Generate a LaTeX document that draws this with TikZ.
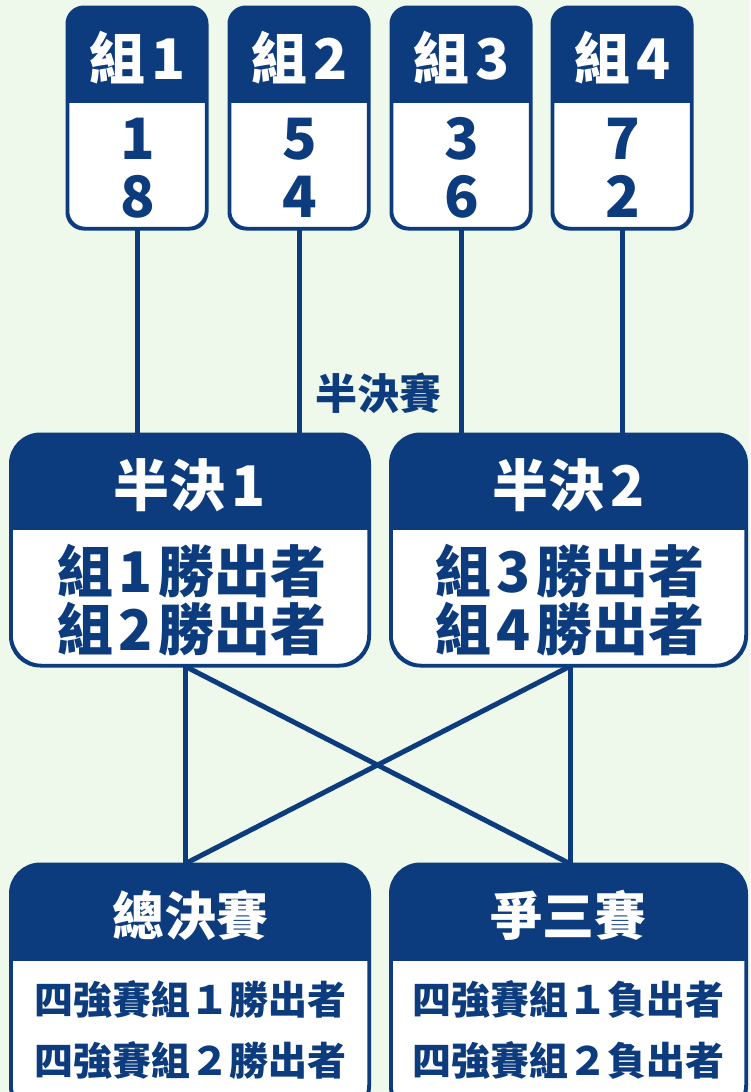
\documentclass[tikz,border=0pt]{standalone}
\usepackage{fontspec}
\newfontfamily\cjk{Noto Sans CJK TC}
\usetikzlibrary{calc,backgrounds}
\definecolor{navy}{HTML}{0D3C7E}
\definecolor{bg}{HTML}{EEF8EB}
\tikzset{
  card/.style={draw=navy, fill=white, line width=2.5pt, inner sep=0pt},
  hdrtxt/.style={text=white, inner sep=0pt, font=\cjk\bfseries\fontsize{56}{58}\selectfont},
  smalhdr/.style={text=white, inner sep=0pt, font=\cjk\bfseries\fontsize{52}{54}\selectfont},
  bodytxt/.style={text=navy, inner sep=0pt, align=center, font=\cjk\bfseries\fontsize{57}{58}\selectfont},
  smalbody/.style={text=navy, inner sep=0pt, align=center, font=\cjk\bfseries\fontsize{39}{61}\selectfont},
  stagelbl/.style={text=navy, inner sep=0pt, font=\cjk\bfseries\fontsize{42}{44}\selectfont},
  link/.style={draw=navy, line width=5pt},
}
\newcommand\dg[1]{\hspace{5pt}#1\hspace{5pt}}
\newcommand\card[7]{%
  \node[card, rounded corners=#7pt, minimum width=#4pt, minimum height=#5pt] (#1) at (#2,#3) {};
  \begin{scope}
    \clip[rounded corners=#7pt] (#1.south west) rectangle (#1.north east);
    \fill[navy] (#1.north west) rectangle ($(#1.north east)+(0,#6)$);
  \end{scope}
  \draw[navy, line width=2.5pt, rounded corners=#7pt] (#1.south west) rectangle (#1.north east);
}
\begin{document}
\begin{tikzpicture}[x=1pt,y=-1pt]
\useasboundingbox (0,0) rectangle (750,1092);
\begin{scope}
\clip (0,0) rectangle (750,1092);
% group boxes
\card{g1}{137}{118}{138}{220}{96}{17}
\card{g2}{299}{118}{138}{220}{96}{17}
\card{g3}{461}{118}{138}{220}{96}{17}
\card{g4}{622}{118}{138}{220}{96}{17}
\node[hdrtxt] (g1h) at (138,58) {組\hspace{6pt}1};
\node[hdrtxt] (g2h) at (300,58) {組\hspace{6pt}2};
\node[hdrtxt] (g3h) at (462,58) {組\hspace{6pt}3};
\node[hdrtxt] (g4h) at (623,58) {組\hspace{6pt}4};
\node[bodytxt] (g1b) at (138,168) {1\\8};
\node[bodytxt] (g2b) at (300,168) {5\\4};
\node[bodytxt] (g3b) at (462,168) {3\\6};
\node[bodytxt] (g4b) at (623,168) {7\\2};
% semifinal boxes
\card{s1}{190}{550}{357}{230}{96}{30}
\card{s2}{568.5}{550}{354}{230}{96}{30}
\node[hdrtxt] (s1h) at (190,485) {半決\hspace{6pt}1};
\node[hdrtxt] (s2h) at (568.5,485) {半決\hspace{6pt}2};
\node[bodytxt, font=\cjk\bfseries\fontsize{56}{58}\selectfont] (s1b) at (192,600) {組\dg{1}勝出者\\組\dg{2}勝出者};
\node[bodytxt, font=\cjk\bfseries\fontsize{56}{58}\selectfont] (s2b) at (570,600) {組\dg{3}勝出者\\組\dg{4}勝出者};
\node[stagelbl] (lbl) at (378,393) {半決賽};
% final boxes
\card{f}{190}{990}{357}{250}{97}{30}
\card{t}{568.5}{990}{354}{250}{97}{30}
\node[smalhdr] (fh) at (190,915) {總決賽};
\node[smalhdr] (th) at (568.5,915) {爭三賽};
\node[smalbody] (fb) at (190,1030) {四強賽組１勝出者\\四強賽組２勝出者};
\node[smalbody] (tb) at (568.5,1030) {四強賽組１負出者\\四強賽組２負出者};
\coordinate (s1o) at ($(s1.south)+(-5,0)$);
\coordinate (fi) at ($(f.north)+(-5,0)$);
\coordinate (s2o) at ($(s2.south)+(1.5,0)$);
\coordinate (ti) at ($(t.north)+(1.5,0)$);
\begin{scope}[on background layer]
\fill[bg] (0,0) rectangle (750,1092);
\draw[link] (g1.south) -- (g1.south |- s1.north);
\draw[link] (g2.south) -- (g2.south |- s1.north);
\draw[link] (g3.south) -- (g3.south |- s2.north);
\draw[link] (g4.south) -- (g4.south |- s2.north);
\draw[link] (s1o) -- (fi);
\draw[link] (s2o) -- (ti);
\draw[link] (s1o) -- (ti);
\draw[link] (s2o) -- (fi);
\end{scope}
\end{scope}
\end{tikzpicture}
\end{document}
